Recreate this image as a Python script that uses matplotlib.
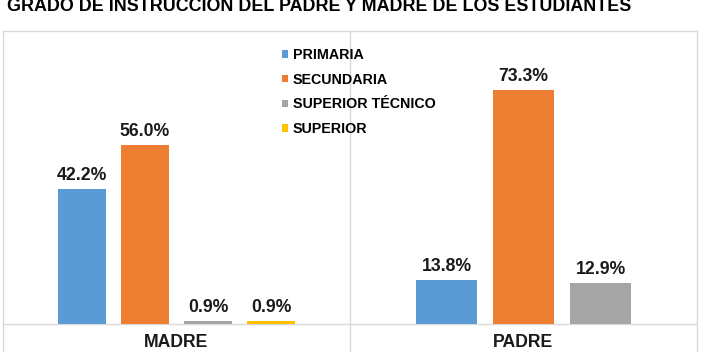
import matplotlib
matplotlib.use("Agg")
import matplotlib.pyplot as plt
from matplotlib.patches import Patch

plt.rcParams['font.family'] = ['Liberation Sans', 'DejaVu Sans']

# ---- data ----
title = "GRADO DE INSTRUCCIÓN DEL PADRE Y MADRE DE LOS ESTUDIANTES"
categories = ["MADRE", "PADRE"]
series_names = ["PRIMARIA", "SECUNDARIA", "SUPERIOR TÉCNICO", "SUPERIOR"]
primaria = [42.2, 13.8]
secundaria = [56.0, 73.3]
superior_tecnico = [0.9, 12.9]
superior = [0.9, None]
series_colors = ["#5B9BD5", "#ED7D31", "#A5A5A5", "#FFC000"]

W, H, DPI = 701, 352, 100
fig = plt.figure(figsize=(W / DPI, H / DPI), dpi=DPI)
fig.patch.set_facecolor("white")

# axes box in pixels
left_px, right_px, top_px, base_px = 3, 697, 31, 324
ax = fig.add_axes([left_px / W, 0, (right_px - left_px) / W, (H - top_px) / H])
px_per_unit = 3.19
ymin = -(H - base_px) / px_per_unit
ymax = (base_px - top_px) / px_per_unit
ax.set_ylim(ymin, ymax)
ax.set_xlim(-0.5, len(categories) - 0.5)

all_series = [primaria, secundaria, superior_tecnico, superior]
group_style = {4: (0.141, 0.1816), 3: (0.176, 0.222)}  # (bar width, step)

handles = []
for ci, cat in enumerate(categories):
    present = [(si, s[ci]) for si, s in enumerate(all_series) if s[ci] is not None]
    n = len(present)
    bw, step = group_style[n]
    for k, (si, v) in enumerate(present):
        x = ci + (k - (n - 1) / 2) * step
        ax.bar(x, v, width=bw, color=series_colors[si], zorder=3)
        ax.annotate(f"{v:.1f}%", (x, v), xytext=(0, 6.5), textcoords="offset points",
                    ha="center", va="baseline", fontsize=12.7, fontweight="bold",
                    color="#1a1a1a", zorder=4)
    ax.text(ci, -5.7, cat, ha="center", va="center", fontsize=12.7,
            fontweight="bold", color="#1a1a1a")

# baseline and category divider
ax.axhline(0, color="#D9D9D9", lw=1, zorder=2)
for ci in range(len(categories) - 1):
    ax.axvline(ci + 0.5, color="#D9D9D9", lw=1, zorder=1)

ax.set_xticks([])
ax.set_yticks([])
for side in ["left", "right", "top"]:
    ax.spines[side].set_color("#D9D9D9")
    ax.spines[side].set_linewidth(1)
ax.spines["bottom"].set_visible(False)

# legend
for si, name in enumerate(series_names):
    handles.append(Patch(facecolor=series_colors[si], label=name))
leg = ax.legend(handles=handles, loc="upper left",
                bbox_to_anchor=(282 / W, 1 - 48 / H), bbox_transform=fig.transFigure,
                frameon=False, borderpad=0, borderaxespad=0,
                handlelength=0.43, handleheight=0.43, handletextpad=0.32,
                labelspacing=0.75, prop={"size": 10.3, "weight": "bold"})
for t in leg.get_texts():
    t.set_color("#000000")

# title (partially cut at top like the reference)
fig.text(7 / W, 1 - 11 / H, title, ha="left", va="baseline", fontsize=12.9,
         fontweight="bold", color="#000000")

fig.savefig("out.png", dpi=DPI)
